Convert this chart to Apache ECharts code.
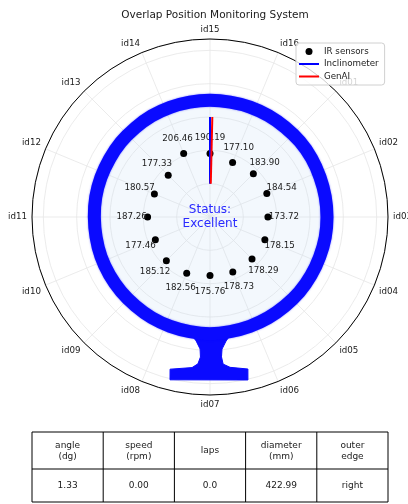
<!DOCTYPE html>
<html>
<head>
<meta charset="utf-8">
<script src="https://cdn.jsdelivr.net/npm/echarts@6/dist/echarts.min.js"></script>
<style>
  html, body { margin: 0; padding: 0; background: #ffffff; }
  #chart { width: 408px; height: 504px; }
</style>
</head>
<body>
<div id="chart"></div>
<script>
// ---- Sensor layout (angles in degrees, clockwise from the top) ----
const sensorNames  = ['id15', 'id16', 'id01', 'id02', 'id03', 'id04', 'id05', 'id06',
                      'id07', 'id08', 'id09', 'id10', 'id11', 'id12', 'id13', 'id14'];
const sensorAngles = [0, 22.5, 45, 67.5, 90, 112.5, 135, 157.5,
                      180, 202.5, 225, 247.5, 270, 292.5, 315, 337.5];
// IR sensor readings
const sensorValues = [190.19, 177.10, 183.90, 184.54, 173.72, 178.15, 178.29, 178.73,
                      175.76, 182.56, 185.12, 177.46, 187.26, 180.57, 177.33, 206.46];

// ---- Measured ring profile (midline radius per angle) ----
const ringAngles = [0, 10, 20, 30, 40, 50, 60, 70, 80, 90, 100, 110,
                    120, 130, 140, 150, 160, 170, 180, 190, 200, 210, 220, 230,
                    240, 250, 260, 270, 280, 290, 300, 310, 320, 330, 340, 350];
const ringRadii  = [350, 350, 351, 351, 351, 352, 352, 351, 351, 351, 351, 350,
                    350, 350, 349, 349, 349, 349, 350, 349, 349, 349, 348, 348,
                    348, 348, 347, 347, 348, 348, 348, 349, 349, 350, 350, 350];

// ---- Mounting foot outline below the ring ----
const footAngles = [189.8, 186.4, 184.3, 183.9, 184.7, 186.8, 194.7, 193.8,
                    166.9, 166.0, 172.4, 174.9, 175.3, 174.8, 172.6, 169.3];
const footRadii  = [353, 374, 397, 421, 442, 455, 472, 503,
                    502, 470, 455, 443, 421, 398, 375, 354];

// ---- Orientation readings ----
const inclinometerAngle = 0;
const genAIAngle = 1.33;
const pointerRange = [100, 300];

// ---- Radial axis ----
const radiusMax = 534;
const radiusStep = 100;

// ---- Status table ----
const tableHeaders = ['angle\n(dg)', 'speed\n(rpm)', 'laps', 'diameter\n(mm)', 'outer\nedge'];
const tableValues  = ['1.33', '0.00', '0.0', '422.99', 'right'];

const FONT = 'DejaVu Sans';
const TEXT = '#1a1a1a';
const LINE_ICON = 'path://M0,0L20,0L20,2L0,2Z';

const chart = echarts.init(document.getElementById('chart'), null, { renderer: 'canvas' });

// table drawn as graphic elements
const tLeft = 32, tRight = 388, tTop = 432, tMid = 469, tBottom = 502;
const colW = (tRight - tLeft) / tableHeaders.length;
const tableGraphics = [];
const lineStyle = { stroke: '#000', lineWidth: 1 };
[tTop, tMid, tBottom].forEach(y => {
  tableGraphics.push({ type: 'line', shape: { x1: tLeft, y1: y, x2: tRight, y2: y }, style: lineStyle, silent: true });
});
for (let i = 0; i <= tableHeaders.length; i++) {
  const x = tLeft + i * colW;
  tableGraphics.push({ type: 'line', shape: { x1: x, y1: tTop, x2: x, y2: tBottom }, style: lineStyle, silent: true });
}
tableHeaders.forEach((h, i) => {
  const cx = tLeft + (i + 0.5) * colW;
  tableGraphics.push({
    type: 'text', x: cx, y: (tTop + tMid) / 2 + 0.5, silent: true,
    style: { text: h, fill: TEXT, font: '9px "' + FONT + '"', align: 'center', verticalAlign: 'middle', lineHeight: 11 }
  });
  tableGraphics.push({
    type: 'text', x: cx, y: (tMid + tBottom) / 2 + 0.5, silent: true,
    style: { text: tableValues[i], fill: TEXT, font: '9px "' + FONT + '"', align: 'center', verticalAlign: 'middle' }
  });
});

// sensor points; labels sit a little further out along each spoke
const labelGap = 16;
const sensorData = sensorValues.map((v, i) => {
  const a = sensorAngles[i] * Math.PI / 180;
  return {
    value: [v, sensorAngles[i]],
    label: { offset: [labelGap * Math.sin(a), -labelGap * Math.cos(a)] }
  };
});

const option = {
  animation: false,
  backgroundColor: '#ffffff',
  textStyle: { fontFamily: FONT },
  title: {
    text: 'Overlap Position Monitoring System',
    left: 210, top: 5, textAlign: 'center',
    textStyle: { fontSize: 10.5, fontWeight: 'normal', color: TEXT, fontFamily: FONT }
  },
  legend: {
    orient: 'vertical',
    left: 296, top: 43,
    itemWidth: 20, itemHeight: 7, itemGap: 3.5,
    padding: [4, 6, 4, 3],
    backgroundColor: 'rgba(255,255,255,0.8)',
    borderColor: '#d0d0d0', borderWidth: 1, borderRadius: 3,
    textStyle: { fontSize: 8.7, color: TEXT, fontFamily: FONT },
    data: [
      { name: 'IR sensors', icon: 'circle', itemStyle: { color: '#000', opacity: 1 } },
      { name: 'Inclinometer', icon: LINE_ICON },
      { name: 'GenAI', icon: LINE_ICON }
    ]
  },
  polar: { center: [210, 217], radius: 178 },
  angleAxis: {
    type: 'value', min: 0, max: 360, interval: 22.5,
    startAngle: 90, clockwise: true,
    axisLine: { show: true, lineStyle: { color: '#000', width: 1 } },
    axisTick: { show: false },
    axisLabel: {
      margin: 5, fontSize: 8.7, color: TEXT, fontFamily: FONT,
      formatter: v => sensorNames[Math.round(v / 22.5) % 16]
    },
    splitLine: { show: true, lineStyle: { color: '#e6e6e6', width: 0.8 } }
  },
  radiusAxis: {
    type: 'value', min: 0, max: radiusMax, interval: radiusStep,
    axisLine: { show: false }, axisTick: { show: false }, axisLabel: { show: false },
    splitLine: { show: true, lineStyle: { color: '#e6e6e6', width: 0.8 } }
  },
  series: [
    {
      // ring interior, ring band and mounting foot
      type: 'custom', coordinateSystem: 'polar', silent: true, z: 1,
      data: ringAngles.map((a, i) => [ringRadii[i], a]),
      renderItem(params, api) {
        if (params.dataIndex !== 0) return null;
        const ringPts = ringAngles.map((a, i) => api.coord([ringRadii[i], a]));
        const footPts = footAngles.map((a, i) => api.coord([footRadii[i], a]));
        return {
          type: 'group',
          children: [
            { type: 'polygon', shape: { points: ringPts, smooth: 0.35 },
              style: { fill: 'rgba(200,222,246,0.22)', stroke: null } },
            { type: 'polygon', shape: { points: footPts },
              style: { fill: '#0a0aff', stroke: '#0a0aff', lineWidth: 1 } },
            { type: 'polygon', shape: { points: ringPts, smooth: 0.35 },
              style: { fill: null, stroke: '#0a0aff', lineWidth: 13,
                       shadowBlur: 2, shadowColor: 'rgba(0,0,255,0.5)' } }
          ]
        };
      }
    },
    {
      name: 'IR sensors', type: 'scatter', coordinateSystem: 'polar', z: 5,
      symbol: 'circle', symbolSize: 7,
      itemStyle: { color: '#000', opacity: 1 },
      label: {
        show: true, position: 'inside', color: TEXT, fontSize: 8.7, fontFamily: FONT,
        formatter: p => p.value[0].toFixed(2)
      },
      data: sensorData
    },
    {
      name: 'Inclinometer', type: 'line', coordinateSystem: 'polar', z: 6,
      symbol: 'none', lineStyle: { color: '#0000ff', width: 2 },
      itemStyle: { color: '#0000ff' },
      data: [[pointerRange[0], inclinometerAngle], [pointerRange[1], inclinometerAngle]]
    },
    {
      name: 'GenAI', type: 'line', coordinateSystem: 'polar', z: 7,
      symbol: 'none', lineStyle: { color: '#ff0000', width: 2 },
      itemStyle: { color: '#ff0000' },
      data: [[pointerRange[0], genAIAngle], [pointerRange[1], genAIAngle]]
    }
  ],
  graphic: [
    {
      type: 'text', x: 210, y: 217, silent: true, z: 10,
      style: {
        text: 'Status:\nExcellent', fill: '#2a2aff',
        font: '12px "' + FONT + '"', align: 'center', verticalAlign: 'middle', lineHeight: 14
      }
    }
  ].concat(tableGraphics)
};

chart.setOption(option);
</script>
</body>
</html>
